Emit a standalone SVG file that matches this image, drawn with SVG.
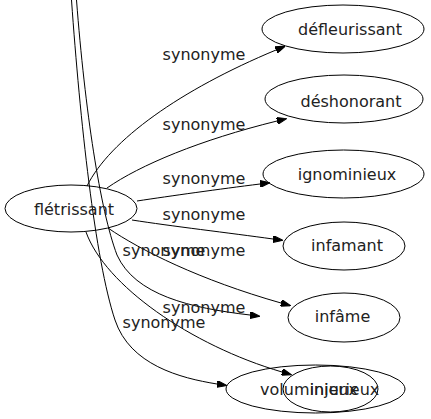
<svg xmlns="http://www.w3.org/2000/svg" width="431" height="419" viewBox="0 0 431 419">
<style>
.node ellipse{fill:none;stroke:#000;stroke-width:1}
.node text,.label{font-family:"DejaVu Sans",sans-serif;font-size:16px;fill:#222;text-anchor:middle}
.edge{fill:none;stroke:#000;stroke-width:1;marker-end:url(#arr)}
</style>
<defs>
<marker id="arr" viewBox="0 0 10 7" refX="0" refY="3.5" markerWidth="10" markerHeight="7" markerUnits="userSpaceOnUse" orient="auto">
<path d="M0,0 L10,3.5 L0,7 z" fill="#000" stroke="#000" stroke-width="1"/>
</marker>
</defs>
<rect width="431" height="419" fill="#fff"/>
<g id="connectors">
<path class="edge" d="M87,186 C110,140 180,90 276,50"/>
<path class="edge" d="M107,188 C140,165 200,140 277,121"/>
<path class="edge" d="M137,201 C170,196 220,189 260,184"/>
<path class="edge" d="M132,220 C170,226 230,233 273,239"/>
<path class="edge" d="M108,228 C140,250 200,280 281,303"/>
<path class="edge" d="M86,232 C105,285 190,345 282,372"/>
<path class="edge" d="M71.5,0 C80,120 95,260 115,320 C130,365 180,378 217,384"/>
<path class="edge" d="M76.5,0 C85,110 100,210 117,255 C135,295 190,308 250,315"/>
<text class="label" x="204" y="60">synonyme</text>
<text class="label" x="204" y="130">synonyme</text>
<text class="label" x="204" y="184">synonyme</text>
<text class="label" x="204" y="220">synonyme</text>
<text class="label" x="164" y="256">synonyme</text>
<text class="label" x="204" y="256">synonyme</text>
<text class="label" x="204" y="313">synonyme</text>
<text class="label" x="164" y="328">synonyme</text>
</g>
<g id="n-fletrissant" class="node"><ellipse cx="71" cy="208.5" rx="66" ry="23.5"/><text x="74" y="215">flétrissant</text></g>
<g id="n-defleurissant" class="node"><ellipse cx="343" cy="29" rx="81" ry="24"/><text x="350" y="35">défleurissant</text></g>
<g id="n-deshonorant" class="node"><ellipse cx="344" cy="99" rx="79" ry="24"/><text x="351" y="106.5">déshonorant</text></g>
<g id="n-ignominieux" class="node"><ellipse cx="343.5" cy="174" rx="80.5" ry="24"/><text x="347" y="179.5">ignominieux</text></g>
<g id="n-infamant" class="node"><ellipse cx="344" cy="246" rx="61" ry="24"/><text x="347" y="250.5">infamant</text></g>
<g id="n-infame" class="node"><ellipse cx="344" cy="317.5" rx="56" ry="24.5"/><text x="342.5" y="321.5">infâme</text></g>
<g id="n-voluminieux" class="node"><ellipse cx="315.5" cy="389" rx="89.5" ry="24"/><text x="309" y="394.5">voluminieux</text></g>
<g id="n-injurieux" class="node"><ellipse cx="330.5" cy="389" rx="47.5" ry="23"/><text x="344.5" y="394.5">injurieux</text></g>
</svg>
